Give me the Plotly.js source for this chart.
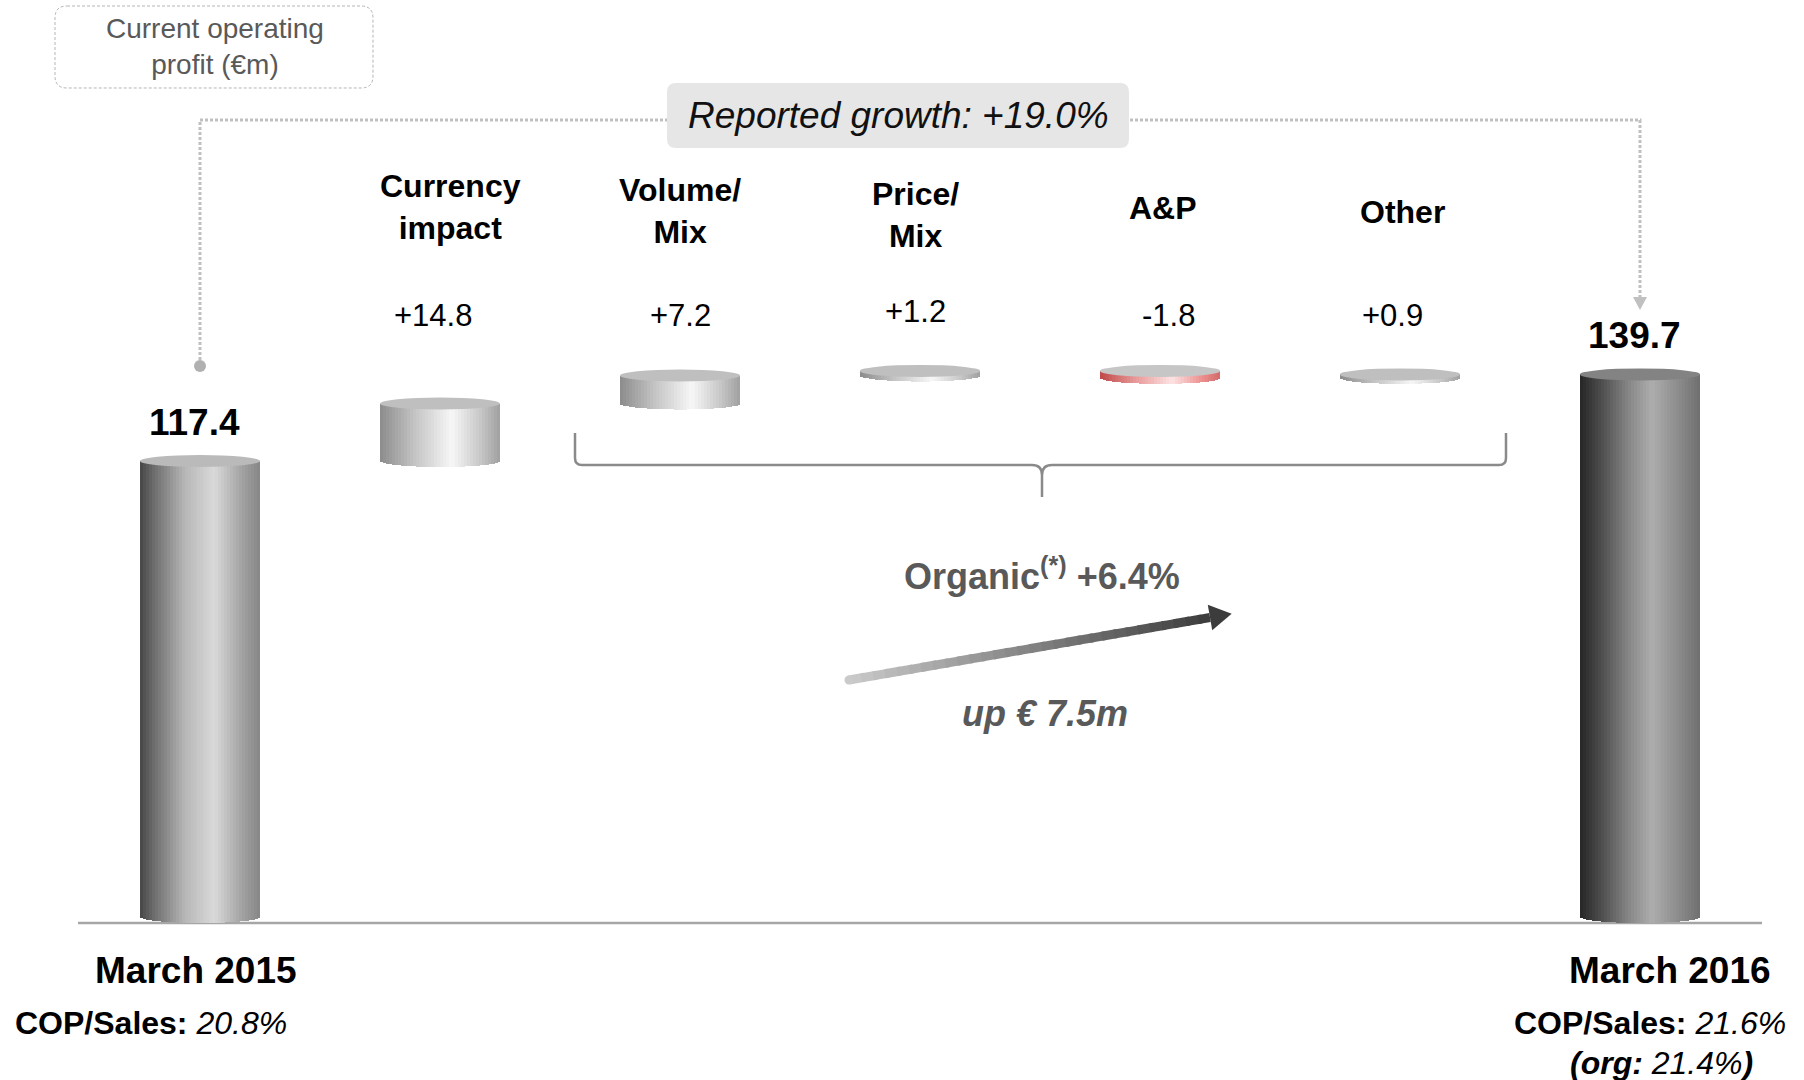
<!DOCTYPE html>
<html><head><meta charset="utf-8">
<script src="https://cdn.plot.ly/plotly-3.0.1.min.js"></script>
<style>html,body{margin:0;padding:0;background:#fff;} #chart{width:1804px;height:1080px;}</style>
</head><body><div id="chart"></div>
<script>
// ---------------- data ----------------
const categories = ['March 2015','Currency impact','Volume/Mix','Price/Mix','A&P','Other','March 2016'];
const measures = ['absolute','relative','relative','relative','relative','relative','total'];
const values = [117.4, 14.8, 7.2, 1.2, -1.8, 0.9, 139.7];
const valueLabels = ['117.4','+14.8','+7.2','+1.2','-1.8','+0.9','139.7'];
const stepLabels = ['Currency<br>impact','Volume/<br>Mix','Price/<br>Mix','A&P','Other'];
const endLabels = ['March 2015','March 2016'];
const copSales = ['20.8%','21.6%'];
const copSalesOrganic = '21.4%';
const reportedGrowth = '+19.0%';
const organicGrowth = '+6.4%';
const organicIncrease = '€ 7.5m';
const unitLabel = 'Current operating<br>profit (€m)';

// ---------------- geometry / style ----------------
const W=1804, H=1080;
const X0PX=200, XSTEP=240, Y0PX=917, K=3.884;
const BAR_W=0.5, RY=6/K, NS=40;
const FONT='Liberation Sans, Arial, sans-serif';
const px = x => x/W, py = y => 1 - y/H;
const pt = (x,y) => px(x).toFixed(5)+','+py(y).toFixed(5);
// small label nudges (pixels) for the step columns
const labelNudge = [10, 0, -5, 3, 2];
const valueNudge = [-7, 0, -5, 8, -8];
const valueRowY  = [316, 315, 311, 315, 315];
const labelRowY  = [207, 211, 215, 208, 212];

const palettes = {
  start: [[0,'#464646'],[0.12,'#6e6e6e'],[0.38,'#b8b8b8'],[0.62,'#d9d9d9'],[0.85,'#a2a2a2'],[1,'#868686']],
  end:   [[0,'#262626'],[0.18,'#4e4e4e'],[0.42,'#8a8a8a'],[0.6,'#adadad'],[0.85,'#878787'],[1,'#6f6f6f']],
  pos:   [[0,'#8c8c8c'],[0.3,'#c6c6c6'],[0.6,'#f7f7f7'],[0.85,'#c4c4c4'],[1,'#a0a0a0']],
  neg:   [[0,'#c04848'],[0.3,'#e89a9a'],[0.6,'#fde3e3'],[0.85,'#ec8f8f'],[1,'#d46a6a']]
};
const capColor = {start:'#bababa', end:'#838383', pos:'#bfbfbf', neg:'#c6c6c6'};

function hex(h){return [parseInt(h.slice(1,3),16),parseInt(h.slice(3,5),16),parseInt(h.slice(5,7),16)];}
function grad(stops,t){
  for(let j=0;j<stops.length-1;j++){
    const [t0,c0]=stops[j],[t1,c1]=stops[j+1];
    if(t<=t1||j===stops.length-2){
      const f=Math.max(0,Math.min(1,(t-t0)/(t1-t0)));
      const a=hex(c0), b=hex(c1);
      return 'rgb('+a.map((v,m)=>Math.round(v+(b[m]-v)*f)).join(',')+')';
    }
  }
}

// ---------------- waterfall levels ----------------
const lo=[], hi=[]; let run=0;
values.forEach((v,i)=>{
  if(measures[i]==='absolute'||measures[i]==='total'){lo.push(0);hi.push(v);run=v;}
  else {lo.push(Math.min(run,run+v));hi.push(Math.max(run,run+v));run+=v;}
});
const xs = categories.map((_,i)=>i);
const kinds = values.map((v,i)=> measures[i]==='absolute'?'start': measures[i]==='total'?'end': (v<0?'neg':'pos'));

// cylinder bodies as vertical strips
const traces=[];
for(let k=0;k<NS;k++){
  const t=(k+0.5)/NS, u=2*t-1, drop=RY*Math.sqrt(1-u*u);
  const off=-BAR_W/2 + k*BAR_W/NS;
  const wid=Math.min(BAR_W/NS*1.4, BAR_W/2-off);
  const base=lo.map(l=>l-drop);
  traces.push({type:'bar', x:xs, base:base, y:hi.map((h,i)=>h-base[i]),
    offset:off, width:wid, customdata:categories,
    marker:{color:kinds.map(kd=>grad(palettes[kd],t)), line:{width:0}},
    hoverinfo:'skip', showlegend:false});
}

// ---------------- shapes ----------------
const shapes=[];
function rr(x0,y0,x1,y1,r){
  return 'M'+pt(x0+r,y0)+' L'+pt(x1-r,y0)+' Q'+pt(x1,y0)+' '+pt(x1,y0+r)+
    ' L'+pt(x1,y1-r)+' Q'+pt(x1,y1)+' '+pt(x1-r,y1)+' L'+pt(x0+r,y1)+
    ' Q'+pt(x0,y1)+' '+pt(x0,y1-r)+' L'+pt(x0,y0+r)+' Q'+pt(x0,y0)+' '+pt(x0+r,y0)+' Z';
}
shapes.push({type:'line', xref:'paper', yref:'paper', x0:px(78), x1:px(1762), y0:py(923), y1:py(923), line:{color:'#a6a6a6', width:2.5}, layer:'below'});
shapes.push({type:'path', xref:'paper', yref:'paper', path:'M'+pt(200,360)+' L'+pt(200,120)+' L'+pt(1640,120)+' L'+pt(1640,298),
  line:{color:'#c0c0c0', width:3, dash:'3px,2px'}, layer:'below'});
shapes.push({type:'circle', xref:'paper', yref:'paper', x0:px(194), x1:px(206), y0:py(372), y1:py(360), fillcolor:'#b0b0b0', line:{width:0}, layer:'below'});
shapes.push({type:'path', xref:'paper', yref:'paper', path:'M'+pt(1633,297)+' L'+pt(1647,297)+' L'+pt(1640,310)+' Z', fillcolor:'#c0c0c0', line:{width:0}, layer:'below'});
shapes.push({type:'path', xref:'paper', yref:'paper', path:rr(667,83,1129,148,9), fillcolor:'#e6e6e6', line:{width:0}, layer:'above'});
shapes.push({type:'path', xref:'paper', yref:'paper', path:rr(55,6,373,88,12), fillcolor:'rgba(0,0,0,0)', line:{color:'#b5b5b5', width:1, dash:'3px,2px'}, layer:'above'});
shapes.push({type:'path', xref:'paper', yref:'paper',
  path:'M'+pt(575,433)+' L'+pt(575,458)+' Q'+pt(575,465)+' '+pt(582,465)+' L'+pt(1032,465)+' Q'+pt(1042,465)+' '+pt(1042,475)+' L'+pt(1042,497)+
       ' M'+pt(1042,475)+' Q'+pt(1042,465)+' '+pt(1052,465)+' L'+pt(1499,465)+' Q'+pt(1506,465)+' '+pt(1506,458)+' L'+pt(1506,433),
  line:{color:'#8a8a8a', width:2.5}, layer:'above'});
const A=[849,680], B=[1210,617.5], NSEG=30;
for(let s=0;s<NSEG;s++){
  const f0=s/NSEG, f1=Math.min(1,(s+1)/NSEG+0.01);
  const col=grad([[0,'#cacaca'],[1,'#3c3c3c']],(s+0.5)/NSEG);
  shapes.push({type:'line', xref:'paper', yref:'paper',
    x0:px(A[0]+(B[0]-A[0])*f0), y0:py(A[1]+(B[1]-A[1])*f0),
    x1:px(A[0]+(B[0]-A[0])*f1), y1:py(A[1]+(B[1]-A[1])*f1),
    line:{color:col, width:9}, layer:'above'});
}
shapes.push({type:'circle', xref:'paper', yref:'paper', x0:px(A[0]-4.5), x1:px(A[0]+4.5), y0:py(A[1]+4.5), y1:py(A[1]-4.5), fillcolor:'#cacaca', line:{width:0}, layer:'above'});
(function(){
  const dx=B[0]-A[0], dy=B[1]-A[1], L=Math.hypot(dx,dy), ux=dx/L, uy=dy/L, nx=-uy, ny=ux;
  const T=[B[0]+22*ux, B[1]+22*uy];
  const c1=[B[0]+13*nx, B[1]+13*ny], c2=[B[0]-13*nx, B[1]-13*ny];
  shapes.push({type:'path', xref:'paper', yref:'paper', path:'M'+pt(T[0],T[1])+' L'+pt(c1[0],c1[1])+' L'+pt(c2[0],c2[1])+' Z', fillcolor:'#3c3c3c', line:{width:0}, layer:'above'});
})();
xs.forEach((x,i)=>{
  shapes.push({type:'circle', xref:'x', yref:'y', x0:x-BAR_W/2, x1:x+BAR_W/2, y0:hi[i]-RY, y1:hi[i]+RY,
    fillcolor:capColor[kinds[i]], line:{width:0}, layer:'above'});
});

// ---------------- annotations ----------------
const ann=[];
const T = (o)=>Object.assign({showarrow:false, xanchor:'center', yanchor:'middle'}, o);
ann.push(T({xref:'paper', yref:'paper', x:px(215), y:py(46), text:unitLabel, font:{family:FONT, size:28, color:'#595959'}}));
ann.push(T({xref:'paper', yref:'paper', x:px(898), y:py(116), text:'<i>Reported growth: '+reportedGrowth+'</i>', font:{family:FONT, size:37, color:'#111111'}}));
for(let i=1;i<=5;i++){
  ann.push(T({xref:'x', yref:'paper', x:xs[i], xshift:labelNudge[i-1], y:py(labelRowY[i-1]), text:'<b>'+stepLabels[i-1]+'</b>', font:{family:FONT, size:32, color:'#000'}}));
  ann.push(T({xref:'x', yref:'paper', x:xs[i], xshift:valueNudge[i-1], y:py(valueRowY[i-1]), text:valueLabels[i], font:{family:FONT, size:31, color:'#000'}}));
}
[0,6].forEach(i=>{
  ann.push(T({xref:'x', yref:'y', x:xs[i], y:hi[i], yshift:39, xshift:-6, text:'<b>'+valueLabels[i]+'</b>', font:{family:FONT, size:37, color:'#000'}}));
});
ann.push(T({xref:'x', yref:'paper', x:xs[0], xshift:-4, y:py(970), text:'<b>'+endLabels[0]+'</b>', font:{family:FONT, size:37, color:'#000'}}));
ann.push(T({xref:'x', yref:'paper', x:xs[6], xshift:30, y:py(970), text:'<b>'+endLabels[1]+'</b>', font:{family:FONT, size:37, color:'#000'}}));
ann.push(T({xref:'paper', yref:'paper', x:px(13), xanchor:'left', y:py(1023), text:'<b>COP/Sales:</b> <i>'+copSales[0]+'</i>', font:{family:FONT, size:32, color:'#000'}}));
ann.push(T({xref:'paper', yref:'paper', x:px(1650), y:py(1023), text:'<b>COP/Sales:</b> <i>'+copSales[1]+'</i>', font:{family:FONT, size:32, color:'#000'}}));
ann.push(T({xref:'paper', yref:'paper', x:px(1661), y:py(1063), text:'<b><i>(org:</i></b><i> '+copSalesOrganic+'</i><b><i>)</i></b>', font:{family:FONT, size:32, color:'#000'}}));
ann.push(T({xref:'paper', yref:'paper', x:px(1042), y:py(574), text:'<b>Organic<sup>(*)</sup> '+organicGrowth+'</b>', font:{family:FONT, size:36, color:'#595959'}}));
ann.push(T({xref:'paper', yref:'paper', x:px(1045), y:py(713), text:'<b><i>up '+organicIncrease+'</i></b>', font:{family:FONT, size:36, color:'#595959'}}));

const layout = {
  width:W, height:H, margin:{l:0,r:0,t:0,b:0,pad:0},
  paper_bgcolor:'#ffffff', plot_bgcolor:'#ffffff',
  barmode:'overlay', bargap:0,
  xaxis:{range:[-X0PX/XSTEP,(W-X0PX)/XSTEP], visible:false, fixedrange:true},
  yaxis:{range:[(Y0PX-H)/K, Y0PX/K], visible:false, fixedrange:true},
  showlegend:false, shapes:shapes, annotations:ann, font:{family:FONT}
};
Plotly.newPlot('chart', traces, layout, {displayModeBar:false, staticPlot:true});
</script></body></html>
